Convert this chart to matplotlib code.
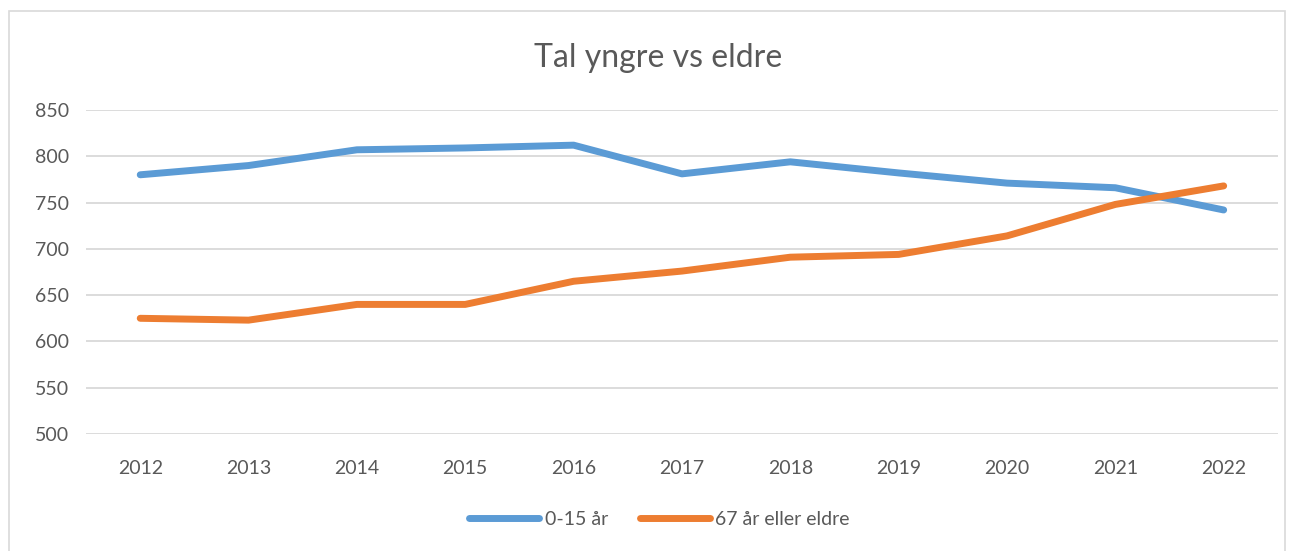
import matplotlib.pyplot as plt
from matplotlib.patches import Rectangle

years = ['2012', '2013', '2014', '2015', '2016', '2017', '2018', '2019', '2020', '2021', '2022']
young = [780, 790, 807, 809, 812, 781, 794, 782, 771, 766, 742]
old = [625, 623, 640, 640, 665, 676, 691, 694, 714, 748, 768]

plt.rcParams['font.family'] = ['Lato', 'DejaVu Sans']

fig = plt.figure(figsize=(12.96, 5.51), dpi=100)
ax = fig.add_axes([0.0664, 0.2123, 0.9196, 0.5881])

# chart border
fig.patches.append(Rectangle((9 / 1296, -0.01), 1276 / 1296, 1 - 11 / 551 + 0.01,
                             transform=fig.transFigure, fill=False,
                             edgecolor='#D9D9D9', linewidth=1.2))

x = range(len(years))
ax.plot(x, young, color='#5B9BD5', linewidth=5, solid_capstyle='round',
        solid_joinstyle='round', label='0-15 år')
ax.plot(x, old, color='#ED7D31', linewidth=5, solid_capstyle='round',
        solid_joinstyle='round', label='67 år eller eldre')

ax.set_xlim(-0.5, len(years) - 0.5)
ax.set_ylim(500, 850)
ax.set_yticks(range(500, 851, 50))
ax.set_xticks(list(x))
ax.set_xticklabels(years)
ax.grid(axis='y', color='#D9D9D9', linewidth=1.3)
ax.set_axisbelow(True)
for s in ax.spines.values():
    s.set_visible(False)
ax.tick_params(length=0, labelsize=14, colors='#595959')
ax.tick_params(axis='x', pad=19)
ax.tick_params(axis='y', pad=12)

fig.text(0.508, 0.895, 'Tal yngre vs eldre', ha='center', va='center',
         fontsize=23, color='#595959')

fig.legend(loc='center', bbox_to_anchor=(0.509, 0.058), ncol=2, frameon=False,
           fontsize=14, labelcolor='#595959', handlelength=3.6, handletextpad=0.3,
           columnspacing=1.6)

fig.savefig('out.png', dpi=100)
